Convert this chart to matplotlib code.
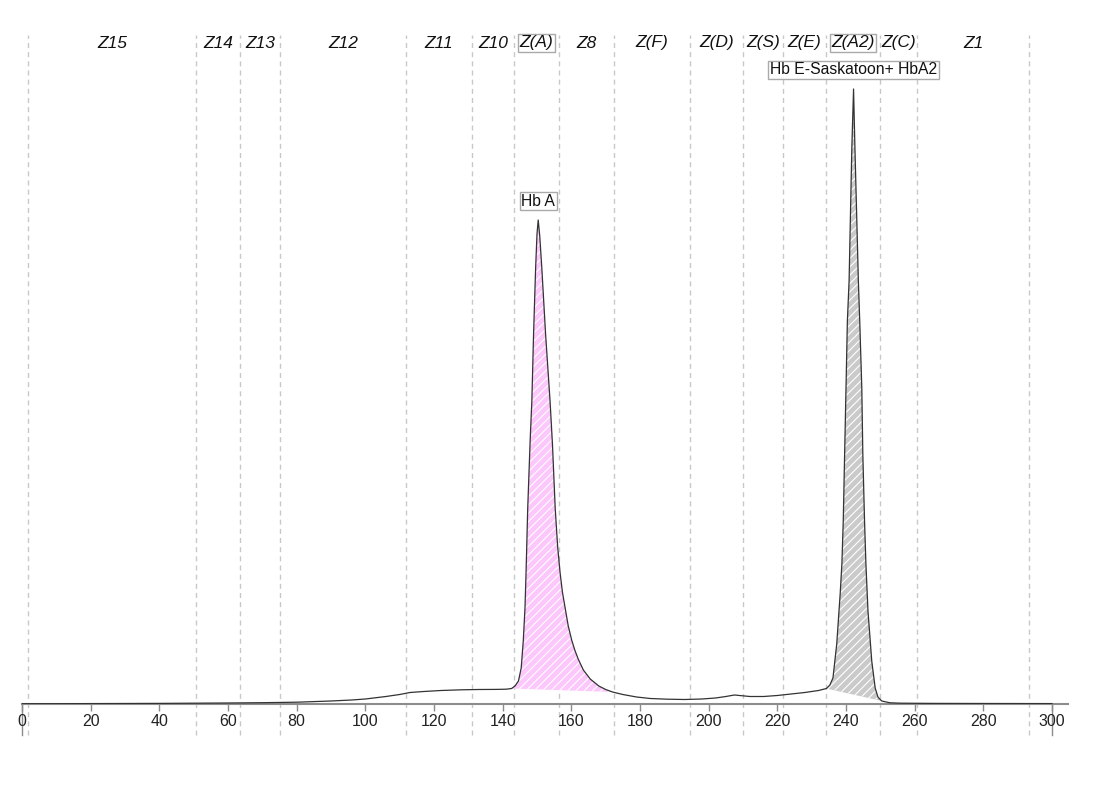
import matplotlib.pyplot as plt

plt.rcParams['font.family'] = ['Liberation Sans', 'DejaVu Sans']
plt.rcParams['hatch.linewidth'] = 0.8

# chromatogram trace (time, signal)
trace_x = [0, 10, 20, 30, 40, 50, 60, 70, 80, 90, 96, 100, 106, 110, 113, 117, 122, 128,
           133, 138, 141, 142.6, 143.6, 144.6, 145.4, 146.0, 146.5, 146.8, 147.3, 148.0,
           148.5, 149.0, 149.6, 150.0, 150.35, 150.8, 151.4, 152.5, 153.8, 154.5, 155.3,
           156.0, 156.7, 157.4, 158.2, 159.1, 160.1, 161, 162, 163.5, 165.5, 168, 170, 172,
           175, 179, 183, 188, 193, 198, 202, 205, 207.5, 209, 212, 216, 220, 224, 228,
           232, 234.3, 235.3, 236.2, 237.3, 238.3, 238.8, 239.2, 239.6, 240.0, 240.4,
           240.9, 241.3, 241.7, 242.2, 242.6, 243.1, 243.6, 244.0, 244.6, 244.9, 245.4,
           245.8, 246.4, 247.5, 248.5, 249.3, 250.4, 252.8, 256, 265, 280, 300]
trace_y = [0.3, 0.3, 0.4, 0.5, 0.6, 0.8, 1.0, 1.3, 1.8, 3, 4, 5, 7.5, 9.5, 11.5, 12.5, 13.5,
           14.2, 14.5, 14.6, 14.8, 15.5, 18, 23, 36, 63, 96, 130, 196, 263, 303, 370, 436,
           470, 484, 468, 436, 370, 303, 260, 196, 158, 132, 112, 96, 78, 64, 54, 45, 34,
           25, 18, 14.5, 12, 9.5, 7, 5.5, 4.8, 4.5, 5, 6, 7.5, 9, 8.5, 7.5, 7.5, 8.5, 10,
           11.5, 13.5, 15.5, 19, 26, 60, 110, 140, 183, 250, 316, 383, 423, 490, 556, 615,
           556, 490, 423, 383, 316, 250, 183, 140, 93, 43, 16, 7, 3, 1.2, 0.8, 0.6, 0.5,
           0.4]

# zone boundaries and names
zone_edges = [1.75, 50.7, 63.5, 75.1, 111.9, 131.1, 143.3, 156.4, 172.4, 194.6, 210.0,
              221.7, 234.2, 249.9, 260.7, 293.3]
zone_names = ['Z15', 'Z14', 'Z13', 'Z12', 'Z11', 'Z10', 'Z(A)', 'Z8', 'Z(F)', 'Z(D)',
              'Z(S)', 'Z(E)', 'Z(A2)', 'Z(C)', 'Z1']
boxed_zones = ['Z(A)', 'Z(A2)']

# integrated peaks
peak_names = ['Hb A', 'Hb E-Saskatoon+ HbA2']
peak_start = [142.6, 234.3]
peak_end = [172, 250.4]
peak_apex = [150.35, 242.2]
peak_colors = ['#fcc8fc', '#cacaca']

W, H = 1098, 800
fig = plt.figure(figsize=(W / 100, H / 100), dpi=100)
ax = fig.add_axes([22 / W, 96 / H, 1046 / W, 669 / H])
ax.set_xlim(0, 304.66)
ax.set_ylim(0, 669)

for s in ['top', 'right', 'left']:
    ax.spines[s].set_visible(False)
ax.spines['bottom'].set_color('#8c8c8c')
ax.spines['bottom'].set_linewidth(1.5)
ax.set_yticks([])
ax.set_xticks(range(0, 301, 20))
ax.tick_params(axis='x', direction='out', length=5, width=1, color='#8c8c8c',
               labelsize=11.5, labelcolor='#222222', pad=2)

# zone dividers
for e in zone_edges:
    ax.plot([e, e], [-31, 669], color='#c8c8c8', lw=1, ls=(0, (3.6, 3)),
            clip_on=False, zorder=1)
# range markers at start and end
for e in [0, 300]:
    ax.plot([e, e], [0, -31], color='#8c8c8c', lw=1, clip_on=False, zorder=1)

for i, name in enumerate(zone_names):
    xm = (zone_edges[i] + zone_edges[i + 1]) / 2
    kw = {}
    if name in boxed_zones:
        kw['bbox'] = dict(boxstyle='square,pad=0.1', fc='white', ec='#aaaaaa', lw=1)
    ax.text(xm, 661, name, ha='center', va='center', fontsize=12.5, style='italic',
            color='#111111', **kw)

# peak fills
for i in range(len(peak_names)):
    seg = [(x, y) for x, y in zip(trace_x, trace_y) if peak_start[i] <= x <= peak_end[i]]
    px_, py_ = zip(*seg)
    ax.fill(px_, py_, facecolor=peak_colors[i], edgecolor='white', lw=0,
            hatch='////', zorder=2)
    top = max(py_)
    ax.text(peak_apex[i], top + 19, peak_names[i], ha='center', va='center',
            fontsize=11.3, color='#111111',
            bbox=dict(boxstyle='square,pad=0.1', fc='white', ec='#aaaaaa', lw=1))

ax.plot(trace_x, trace_y, color='#333333', lw=0.9, zorder=3)

fig.savefig('out.png', dpi=100)
